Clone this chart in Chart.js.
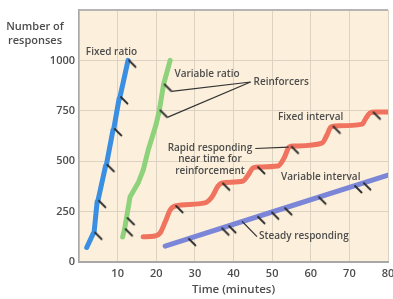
<!DOCTYPE html>
<html>
<head>
<meta charset="utf-8">
<script src="https://cdn.jsdelivr.net/npm/chart.js@4.4.1/dist/chart.umd.min.js"></script>
<style>
  html, body { margin: 0; padding: 0; background: #fff; }
</style>
</head>
<body>
<canvas id="myChart" width="393" height="299"></canvas>
<script>
// time in minutes, cumulative number of responses
const fixedRatio = [[2.0, 72], [3.7, 142], [3.9, 146], [4.7, 300], [4.9, 304], [6.9, 478], [7.1, 482],
  [8.8, 655], [9.0, 660], [10.4, 812], [10.6, 818], [12.7, 1000]]
const fixedRatioReinf = [[3.9, 146], [4.9, 304], [7.1, 482], [9.0, 660], [10.6, 818], [12.7, 1000]]

const variableRatio = [[11.3, 124], [11.8, 163], [12.3, 218], [13.2, 322], [15.4, 396], [16.6, 455],
  [17.9, 554], [19.9, 678], [20.8, 752], [21.9, 881], [23.6, 1000]]
const variableRatioReinf = [[11.8, 163], [12.3, 218], [20.8, 752], [21.9, 881]]

const fixedInterval = [[16.6, 125], [19.7, 129], [21.0, 144], [22.3, 198], [23.6, 258], [24.9, 278],
  [32.6, 293], [34.4, 322], [36.0, 377], [37.0, 392], [42.5, 402], [43.8, 432], [45.0, 466], [46.1, 471],
  [51.5, 476], [53.1, 516], [54.4, 570], [55.4, 575], [62.9, 590], [64.2, 630], [65.2, 670], [66.3, 675],
  [73.3, 684], [74.3, 714], [75.3, 739], [76.6, 744], [80, 744]]
const fixedIntervalReinf = [[24.9, 278], [37.0, 390], [46.1, 471], [54.8, 572], [65.6, 672], [76.0, 742]]

const variableInterval = [[22.3, 79], [50, 248], [80, 431]]
const variableIntervalReinf = [[28.2, 115], [36.8, 167], [38.6, 178], [46.1, 224], [49.7, 246],
  [53.1, 267], [61.9, 321], [71.2, 377], [73.5, 391]]

const timeMax = 80
const timeStep = 10
const responseMax = 1250
const responseStep = 250

const inkColor = '#4d4d4d'
const textFont = '600 10px "Open Sans"'

function toPoints(arr) {
  return arr.map(p => ({x: p[0], y: p[1]}))
}

// reinforcement tick: short slash going down-right from the point
function makeTickMark() {
  let c = document.createElement('canvas')
  c.width = 24
  c.height = 24
  let ctx = c.getContext('2d')
  ctx.strokeStyle = '#2b2b2b'
  ctx.lineWidth = 1.8
  ctx.lineCap = 'round'
  ctx.beginPath()
  ctx.moveTo(13, 12)
  ctx.lineTo(19.5, 18.5)
  ctx.stroke()
  return c
}
const tickMark = makeTickMark()

function curve(data, color, smooth) {
  return {
    data: toPoints(data),
    showLine: true,
    borderColor: color,
    borderWidth: 5,
    borderCapStyle: 'round',
    borderJoinStyle: 'round',
    cubicInterpolationMode: smooth ? 'monotone' : 'default',
    tension: 0,
    pointRadius: 0,
    order: 1
  }
}

function marks(data) {
  return {
    data: toPoints(data),
    showLine: false,
    pointStyle: tickMark,
    pointRadius: 12,
    order: 0
  }
}

// labels and leader lines placed in data units
const notes = [
  {text: ['Fixed ratio'], x: 8.4, y: 1040, align: 'center'},
  {text: ['Variable ratio'], x: 24.7, y: 930, align: 'left'},
  {text: ['Reinforcers'], x: 45.2, y: 893, align: 'left'},
  {text: ['Fixed interval'], x: 51.5, y: 716, align: 'left'},
  {text: ['Rapid responding', 'near time for', 'reinforcement'], x: 33.9, y: 565, align: 'center'},
  {text: ['Variable interval'], x: 52.3, y: 421, align: 'left'},
  {text: ['Steady responding'], x: 46.6, y: 126, align: 'left'}
]

const notesPlugin = {
  id: 'notes',
  beforeDraw(chart) {
    let {ctx, chartArea: a} = chart
    ctx.save()
    ctx.fillStyle = '#fcf0dc'
    ctx.fillRect(a.left, a.top, a.right - a.left, a.bottom - a.top)
    ctx.restore()
  },
  afterDraw(chart) {
    let {ctx, chartArea: a} = chart
    let xs = chart.scales.x
    let ys = chart.scales.y
    let px = v => xs.getPixelForValue(v)
    let py = v => ys.getPixelForValue(v)
    ctx.save()

    // top frame line
    ctx.strokeStyle = '#b5b5b5'
    ctx.lineWidth = 2
    ctx.beginPath()
    ctx.moveTo(a.left, a.top)
    ctx.lineTo(a.right, a.top)
    ctx.stroke()

    // y axis title, horizontal at top-left
    ctx.fillStyle = inkColor
    ctx.font = '600 11px "Open Sans"'
    ctx.textAlign = 'center'
    ctx.textBaseline = 'middle'
    ctx.fillText('Number of', a.left - 44, a.top + 17)
    ctx.fillText('responses', a.left - 44, a.top + 31)

    // leader lines
    ctx.strokeStyle = '#333'
    ctx.lineWidth = 1.2
    let hub = {x: px(45.2) - 3, y: py(893)}
    let leader = (p, dx, dy) => {
      ctx.beginPath()
      ctx.moveTo(px(p[0]) + dx, py(p[1]) + dy)
      ctx.lineTo(hub.x, hub.y)
      ctx.stroke()
    }
    leader(variableRatioReinf[3], 8, 7)
    leader(variableRatioReinf[2], 8, 7)

    ctx.beginPath()
    ctx.moveTo(px(42.2), py(202))
    ctx.lineTo(px(46.6) - 2, py(126))
    ctx.stroke()

    ctx.font = textFont
    let rapidRight = px(33.9) + ctx.measureText('Rapid responding').width / 2
    ctx.beginPath()
    ctx.moveTo(rapidRight + 3, py(563))
    ctx.lineTo(px(54.3), py(570))
    ctx.stroke()

    // text labels
    ctx.fillStyle = inkColor
    ctx.textBaseline = 'middle'
    notes.forEach(n => {
      ctx.textAlign = n.align
      n.text.forEach((line, i) => {
        ctx.fillText(line, px(n.x), py(n.y) + i * 11.5)
      })
    })
    ctx.restore()
  }
}

new Chart(document.getElementById('myChart'), {
  type: 'scatter',
  data: {
    datasets: [
      marks(fixedRatioReinf),
      marks(variableRatioReinf),
      marks(fixedIntervalReinf),
      marks(variableIntervalReinf),
      curve(fixedRatio, '#3a8fe2', false),
      curve(variableRatio, '#8fd27c', false),
      curve(fixedInterval, '#f0735f', true),
      curve(variableInterval, '#7b86d8', false)
    ]
  },
  options: {
    responsive: false,
    animation: false,
    devicePixelRatio: 1,
    layout: {autoPadding: false, padding: {top: 10, right: 5, left: 0, bottom: 0}},
    plugins: {
      legend: {display: false},
      tooltip: {enabled: false}
    },
    scales: {
      x: {
        type: 'linear',
        min: 0,
        max: timeMax,
        ticks: {
          stepSize: timeStep,
          padding: 5,
          color: inkColor,
          font: {family: 'Open Sans', size: 11, weight: '600'},
          maxRotation: 0,
          callback: v => v === 0 ? '' : v
        },
        grid: {color: '#dcd2c2', lineWidth: 1, drawTicks: false},
        border: {color: '#a8a8a8', width: 2},
        title: {
          display: true,
          text: 'Time (minutes)',
          color: inkColor,
          font: {family: 'Open Sans', size: 11.5, weight: '600'},
          padding: {top: 0, bottom: 2}
        },
        afterFit: s => {
          s.height = 37
          s.paddingLeft = 0
          s.paddingRight = 0
        }
      },
      y: {
        type: 'linear',
        min: 0,
        max: responseMax,
        ticks: {
          stepSize: responseStep,
          padding: 4,
          color: inkColor,
          font: {family: 'Open Sans', size: 11, weight: '600'},
          callback: v => v === responseMax ? '' : v
        },
        grid: {color: '#dcd2c2', lineWidth: 1, drawTicks: false},
        border: {color: '#a8a8a8', width: 1.5},
        afterFit: s => {
          s.width = 79
          s.paddingTop = 0
          s.paddingBottom = 0
        }
      }
    }
  },
  plugins: [notesPlugin]
})
</script>
</body>
</html>
